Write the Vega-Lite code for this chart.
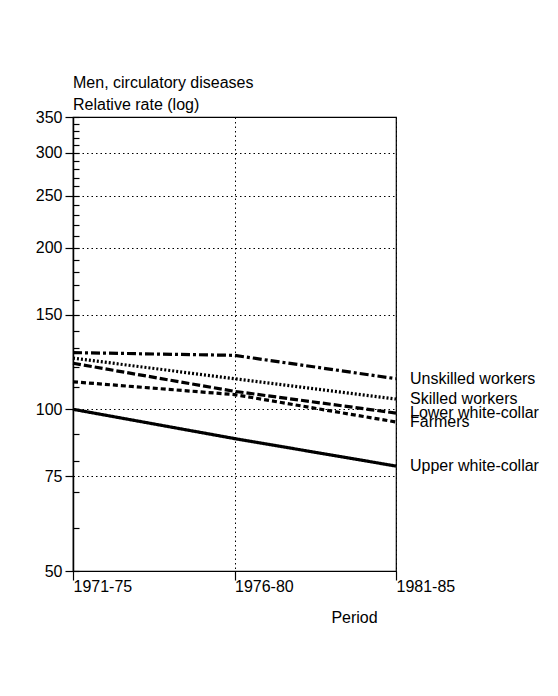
{
  "$schema": "https://vega.github.io/schema/vega-lite/v6.json",
  "width": 323,
  "height": 454,
  "autosize": {"type": "none"},
  "padding": {"left": 73, "top": 117, "right": 162, "bottom": 125},
  "background": "white",
  "title": {
    "text": "Men, circulatory diseases",
    "subtitle": "Relative rate (log)",
    "anchor": "start",
    "frame": "group",
    "font": "Liberation Sans",
    "fontSize": 16,
    "fontWeight": "normal",
    "color": "black",
    "subtitleFont": "Liberation Sans",
    "subtitleFontSize": 16,
    "subtitleColor": "black",
    "subtitlePadding": 6,
    "offset": -4
  },
  "config": {
    "view": {"stroke": "black", "strokeWidth": 1.2},
    "font": "Liberation Sans",
    "axis": {
      "labelFont": "Liberation Sans",
      "titleFont": "Liberation Sans",
      "labelColor": "black",
      "titleColor": "black",
      "tickColor": "black",
      "domainColor": "black",
      "gridColor": "black",
      "gridDash": [1.5, 3],
      "gridWidth": 1,
      "gridOpacity": 1
    }
  },
  "data": {
    "values": [
      {"group": "Upper white-collar", "period": "1971-75", "value": 100},
      {"group": "Upper white-collar", "period": "1976-80", "value": 88.2},
      {"group": "Upper white-collar", "period": "1981-85", "value": 78.4},
      {"group": "Unskilled workers", "period": "1971-75", "value": 127.5},
      {"group": "Unskilled workers", "period": "1976-80", "value": 126},
      {"group": "Unskilled workers", "period": "1981-85", "value": 114},
      {"group": "Skilled workers", "period": "1971-75", "value": 124.5},
      {"group": "Skilled workers", "period": "1976-80", "value": 114},
      {"group": "Skilled workers", "period": "1981-85", "value": 104.5},
      {"group": "Lower white-collar", "period": "1971-75", "value": 121.8},
      {"group": "Lower white-collar", "period": "1976-80", "value": 108},
      {"group": "Lower white-collar", "period": "1981-85", "value": 98.4},
      {"group": "Farmers", "period": "1971-75", "value": 112.5},
      {"group": "Farmers", "period": "1976-80", "value": 106.5},
      {"group": "Farmers", "period": "1981-85", "value": 94.7}
    ]
  },
  "resolve": {"axis": {"y": "independent"}},
  "layer": [
    {
      "mark": {"type": "line", "strokeCap": "butt", "color": "black"},
      "encoding": {
        "x": {
          "field": "period",
          "type": "ordinal",
          "scale": {"type": "point", "padding": 0},
          "axis": {
            "title": "Period",
            "titleFontSize": 16,
            "titleFontWeight": "normal",
            "titleX": 281,
            "titleY": 46,
            "titleBaseline": "middle",
            "titleAlign": "center",
            "labelAngle": 0,
            "labelAlign": "left",
            "labelFontSize": 16,
            "labelPadding": -2,
            "tickSize": 9,
            "tickWidth": 1.2,
            "domainWidth": 1.2,
            "grid": true
          }
        },
        "y": {
          "field": "value",
          "type": "quantitative",
          "scale": {"type": "log", "domain": [50, 350], "nice": false},
          "axis": {
            "orient": "left",
            "title": null,
            "values": [50, 75, 100, 150, 200, 250, 300, 350],
            "format": "d",
            "labelFontSize": 16,
            "labelPadding": 3,
            "tickSize": 8,
            "tickWidth": 1.2,
            "domainWidth": 1.5,
            "grid": true
          }
        },
        "strokeDash": {
          "field": "group",
          "type": "nominal",
          "scale": {
            "domain": ["Unskilled workers", "Skilled workers", "Lower white-collar", "Farmers", "Upper white-collar"],
            "range": [[9, 3, 3, 3], [2, 2], [8, 3], [5, 3], [1, 0]]
          },
          "legend": null
        },
        "strokeWidth": {
          "field": "group",
          "type": "nominal",
          "scale": {
            "domain": ["Unskilled workers", "Skilled workers", "Lower white-collar", "Farmers", "Upper white-collar"],
            "range": [3.2, 3.2, 3.2, 3.2, 4]
          },
          "legend": null
        }
      }
    },
    {
      "transform": [{"filter": "datum.period === '1981-85'"}],
      "mark": {"type": "text", "align": "left", "baseline": "middle", "dx": 14, "fontSize": 16, "font": "Liberation Sans", "color": "black"},
      "encoding": {
        "x": {"field": "period", "type": "ordinal", "scale": {"type": "point", "padding": 0}},
        "y": {
          "field": "value",
          "type": "quantitative",
          "scale": {"type": "log", "domain": [50, 350], "nice": false},
          "axis": {
            "orient": "left",
            "title": null,
            "values": [50, 60, 70, 80, 90, 100, 110, 120, 130, 140, 150, 160, 170, 180, 190, 200, 210, 220, 230, 240, 250, 260, 270, 280, 290, 300, 310, 320, 330, 340, 350],
            "labels": false,
            "domain": false,
            "grid": false,
            "tickSize": -6,
            "tickWidth": 1.2
          }
        },
        "text": {"field": "group", "type": "nominal"}
      }
    }
  ]
}
